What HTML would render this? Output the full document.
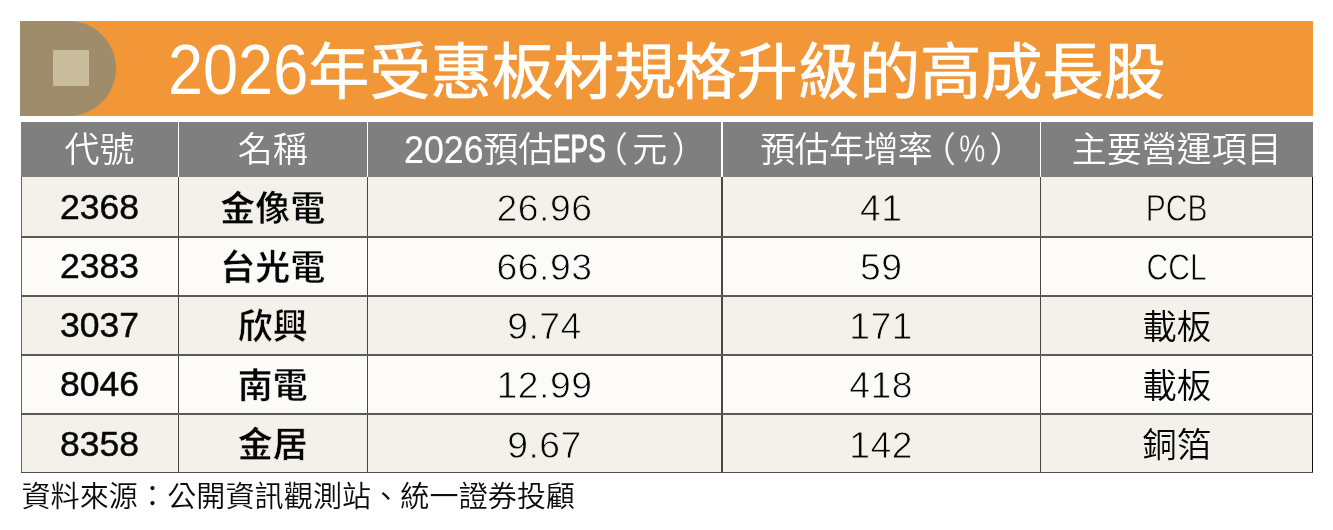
<!DOCTYPE html>
<html lang="zh-Hant">
<head>
<meta charset="utf-8">
<title>2026年受惠板材規格升級的高成長股</title>
<style>
html,body{margin:0;padding:0;background:#fff;}
body{width:1333px;height:530px;position:relative;overflow:hidden;
  font-family:"Liberation Sans","Noto Sans CJK TC",sans-serif;color:#050505;}
.abs{position:absolute;}
#banner{left:20.1px;top:20.55px;width:1292.8px;height:95.4px;background:#f29737;}
#dshape{left:20.1px;top:20.55px;width:96.2px;height:95.4px;background:#9f8c6b;border-radius:0 47.7px 47.7px 0;}
#sq{left:52.8px;top:49.7px;width:36.5px;height:36.5px;background:#c8bc9c;}
#title{left:168.2px;top:22.5px;height:95px;line-height:95px;font-size:61.2px;color:#fff;white-space:nowrap;-webkit-text-stroke:0.7px #fff;}
#title .n{display:inline-block;font-size:69.5px;width:140px;transform:scaleX(.907);transform-origin:0 50%;-webkit-text-stroke:0;vertical-align:baseline;}
.sx{display:inline-block;transform-origin:0 50%;white-space:nowrap;}
.cell{position:absolute;display:flex;align-items:center;justify-content:center;white-space:nowrap;box-sizing:border-box;}
.cell>span{display:inline-block;position:relative;}
.hd{top:121.6px;height:55.6px;z-index:2;background:#7f7f7f;color:#fff;font-size:35px;font-weight:350;}
.hd>span{top:-2.6px;}
.h3,.h4{justify-content:flex-start;}
.hd .l{font-size:39.5px;font-weight:400;}
.r{height:59px;font-size:34.5px;}
.odd{background:#f4f1ea;}
.even{background:#fcfbf8;}
.c1>span{font-size:35.5px;-webkit-text-stroke:0.5px #111;top:1.2px;}
.c2{font-weight:700;}
.c2>span{top:-1.2px;font-size:35px;}
.odd.c2>span{-webkit-text-stroke:.6px #f4f1ea;}
.even.c2>span{-webkit-text-stroke:.6px #fcfbf8;}
.c3>span,.c4>span{font-size:37.3px;letter-spacing:.5px;top:2.1px;}
.odd.c3>span,.odd.c4>span,.odd.c5>span.l{-webkit-text-stroke:.8px #f4f1ea;}
.even.c3>span,.even.c4>span,.even.c5>span.l{-webkit-text-stroke:.8px #fcfbf8;}
.c5{font-weight:350;}
.c5>span{top:-0.7px;}
.c5>span.l{font-size:37.6px;font-weight:400;transform:scaleX(.8);top:2.4px;}
.vl{position:absolute;width:1.4px;background:#4a4646;top:177.2px;height:295.8px;z-index:3;}
.hl{position:absolute;height:1.6px;background:#5c5959;z-index:3;left:20.5px;width:1292.5px;}
.wl{z-index:3;position:absolute;width:1.4px;background:#fff;top:116px;height:61px;}
#src{left:21.4px;top:477.9px;font-size:29px;line-height:38px;color:#0c0c0c;white-space:nowrap;font-weight:350;letter-spacing:.15px;}
</style>
</head>
<body>
<div class="abs" id="banner"></div>
<div class="abs" id="dshape"></div>
<div class="abs" id="sq"></div>
<div class="abs" id="title"><span class="n">2026</span>年受惠板材規格升級的高成長股</div>

<!-- header -->
<div class="cell hd" style="left:20.7px;width:157.6px;"><span>代號</span></div>
<div class="cell hd" style="left:178.3px;width:189px;"><span>名稱</span></div>
<div class="cell hd h3" style="left:367.3px;width:354.4px;padding-left:36.5px;"><span><span class="sx l" style="width:79.5px;transform:scaleX(.905);-webkit-text-stroke:.15px #fff;position:relative;top:.4px">2026</span>預估<span class="sx l" style="width:54px;font-size:38.2px;transform:scaleX(.69);-webkit-text-stroke:1px #fff">EPS</span><span style="margin-left:-14.4px">（</span><span style="margin-left:4.2px">元</span><span style="margin-left:4.6px">）</span></span></div>
<div class="cell hd h4" style="left:721.7px;width:319px;padding-left:38.5px;"><span><span style="letter-spacing:-.6px">預估年增率</span><span style="margin-left:-11.2px">（</span><span class="sx l" style="width:27.5px;margin-left:3px;transform:scaleX(.75);-webkit-text-stroke:.4px #7f7f7f">%</span><span style="margin-left:2.9px">）</span></span></div>
<div class="cell hd" style="left:1040.7px;width:272.3px;"><span>主要營運項目</span></div>

<!-- rows -->
<div class="cell r odd c1" style="top:177px;left:20.7px;width:157.6px;"><span>2368</span></div>
<div class="cell r odd c2" style="top:177px;left:178.3px;width:189px;"><span>金像電</span></div>
<div class="cell r odd c3" style="top:177px;left:367.3px;width:354.4px;"><span>26.96</span></div>
<div class="cell r odd c4" style="top:177px;left:721.7px;width:319px;"><span>41</span></div>
<div class="cell r odd c5" style="top:177px;left:1040.7px;width:272.3px;"><span class="l">PCB</span></div>

<div class="cell r even c1" style="top:236px;left:20.7px;width:157.6px;"><span>2383</span></div>
<div class="cell r even c2" style="top:236px;left:178.3px;width:189px;"><span>台光電</span></div>
<div class="cell r even c3" style="top:236px;left:367.3px;width:354.4px;"><span>66.93</span></div>
<div class="cell r even c4" style="top:236px;left:721.7px;width:319px;"><span>59</span></div>
<div class="cell r even c5" style="top:236px;left:1040.7px;width:272.3px;"><span class="l">CCL</span></div>

<div class="cell r odd c1" style="top:295px;left:20.7px;width:157.6px;"><span>3037</span></div>
<div class="cell r odd c2" style="top:295px;left:178.3px;width:189px;"><span>欣興</span></div>
<div class="cell r odd c3" style="top:295px;left:367.3px;width:354.4px;"><span>9.74</span></div>
<div class="cell r odd c4" style="top:295px;left:721.7px;width:319px;"><span>171</span></div>
<div class="cell r odd c5" style="top:295px;left:1040.7px;width:272.3px;"><span>載板</span></div>

<div class="cell r even c1" style="top:354px;left:20.7px;width:157.6px;"><span>8046</span></div>
<div class="cell r even c2" style="top:354px;left:178.3px;width:189px;"><span>南電</span></div>
<div class="cell r even c3" style="top:354px;left:367.3px;width:354.4px;"><span>12.99</span></div>
<div class="cell r even c4" style="top:354px;left:721.7px;width:319px;"><span>418</span></div>
<div class="cell r even c5" style="top:354px;left:1040.7px;width:272.3px;"><span>載板</span></div>

<div class="cell r odd c1" style="top:413px;left:20.7px;width:157.6px;height:60px;"><span>8358</span></div>
<div class="cell r odd c2" style="top:413px;left:178.3px;width:189px;height:60px;"><span>金居</span></div>
<div class="cell r odd c3" style="top:413px;left:367.3px;width:354.4px;height:60px;"><span>9.67</span></div>
<div class="cell r odd c4" style="top:413px;left:721.7px;width:319px;height:60px;"><span>142</span></div>
<div class="cell r odd c5" style="top:413px;left:1040.7px;width:272.3px;height:60px;"><span>銅箔</span></div>

<!-- lines -->
<div class="wl" style="left:177.8px;"></div>
<div class="wl" style="left:366.9px;"></div>
<div class="wl" style="left:721.2px;"></div>
<div class="wl" style="left:1040.1px;"></div>

<div class="vl" style="left:20.7px;background:#666;"></div>
<div class="vl" style="left:177.8px;"></div>
<div class="vl" style="left:366.9px;"></div>
<div class="vl" style="left:721.2px;"></div>
<div class="vl" style="left:1040.1px;"></div>
<div class="vl" style="left:1311.7px;background:#111;"></div>

<div class="hl" style="top:236.0px;"></div>
<div class="hl" style="top:294.95px;"></div>
<div class="hl" style="top:354.1px;"></div>
<div class="hl" style="top:413.15px;"></div>
<div class="hl" style="top:471.6px;height:1.8px;background:#504d4d"></div>

<div class="abs" id="src">資料來源：公開資訊觀測站、統一證券投顧</div>
</body>
</html>
